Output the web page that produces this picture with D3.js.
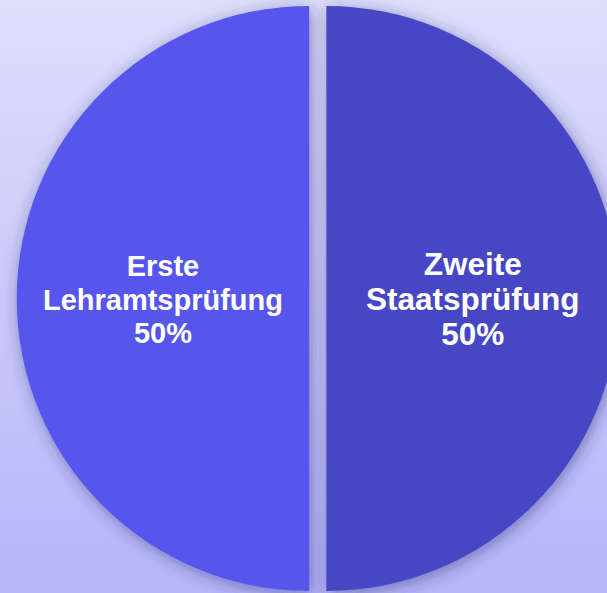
<!DOCTYPE html>
<html>
<head>
<meta charset="utf-8">
<script src="https://cdn.jsdelivr.net/npm/d3@7"></script>
<style>
  html, body { margin: 0; padding: 0; overflow: hidden; }
  svg { display: block; }
</style>
</head>
<body>
<div id="chart"></div>
<script>
// chart data
var categories = ["Erste Lehramtsprüfung", "Zweite Staatsprüfung"];
var labelLines = [["Erste", "Lehramtsprüfung", "50%"], ["Zweite", "Staatsprüfung", "50%"]];
var values = [50, 50];
var colors = ["#5656ee", "#4646c5"];

var width = 607, height = 593;

var svg = d3.select("#chart").append("svg")
    .attr("width", width)
    .attr("height", height);

var defs = svg.append("defs");

// background gradient
var bg = defs.append("linearGradient")
    .attr("id", "bgGrad")
    .attr("x1", 0).attr("y1", 0).attr("x2", 0).attr("y2", 1);
bg.append("stop").attr("offset", "0%").attr("stop-color", "#dedefb");
bg.append("stop").attr("offset", "100%").attr("stop-color", "#b6b6f9");

// soft shadow around slices
var shadow = defs.append("filter")
    .attr("id", "shadow")
    .attr("x", "-20%").attr("y", "-20%")
    .attr("width", "140%").attr("height", "140%");
shadow.append("feDropShadow")
    .attr("dx", 2).attr("dy", 3)
    .attr("stdDeviation", 8)
    .attr("flood-color", "#282878")
    .attr("flood-opacity", 0.5);

svg.append("rect")
    .attr("width", width)
    .attr("height", height)
    .attr("fill", "url(#bgGrad)");

var cx = 317.8, cy = 298.5, radius = 292.5, explode = 8.6;

// start at 6 o'clock so the first slice covers the left half
var pie = d3.pie()
    .sort(null)
    .startAngle(Math.PI)
    .endAngle(3 * Math.PI)
    .value(function (d) { return d; });

var arc = d3.arc().innerRadius(0).outerRadius(radius);
var labelArc = d3.arc().innerRadius(0).outerRadius(radius);

var arcs = pie(values);

var slices = svg.append("g")
    .attr("transform", "translate(" + cx + "," + cy + ")");

function offset(d) {
    var mid = (d.startAngle + d.endAngle) / 2;
    return [Math.sin(mid) * explode, -Math.cos(mid) * explode];
}

var sliceG = slices.selectAll(".slice")
    .data(arcs)
    .enter().append("g")
    .attr("class", "slice")
    .attr("transform", function (d) {
        var o = offset(d);
        return "translate(" + o[0] + "," + o[1] + ")";
    });

sliceG.append("path")
    .attr("d", arc)
    .attr("fill", function (d, i) { return colors[i]; })
    .attr("filter", "url(#shadow)");

// labels
var fontSizes = [29, 31.5];
var lineGaps = [33.5, 35];

sliceG.append("text")
    .attr("text-anchor", "middle")
    .attr("fill", "#ffffff")
    .attr("font-family", "Arial, 'Liberation Sans', sans-serif")
    .attr("font-weight", "bold")
    .attr("font-size", function (d, i) { return fontSizes[i] + "px"; })
    .attr("transform", function (d) {
        var c = labelArc.centroid(d);
        return "translate(" + c[0] + "," + c[1] + ")";
    })
    .each(function (d, i) {
        var t = d3.select(this);
        labelLines[i].forEach(function (line, k) {
            t.append("tspan")
                .attr("x", 0)
                .attr("y", (k - 1) * lineGaps[i] + 11)
                .text(line);
        });
    });
</script>
</body>
</html>
